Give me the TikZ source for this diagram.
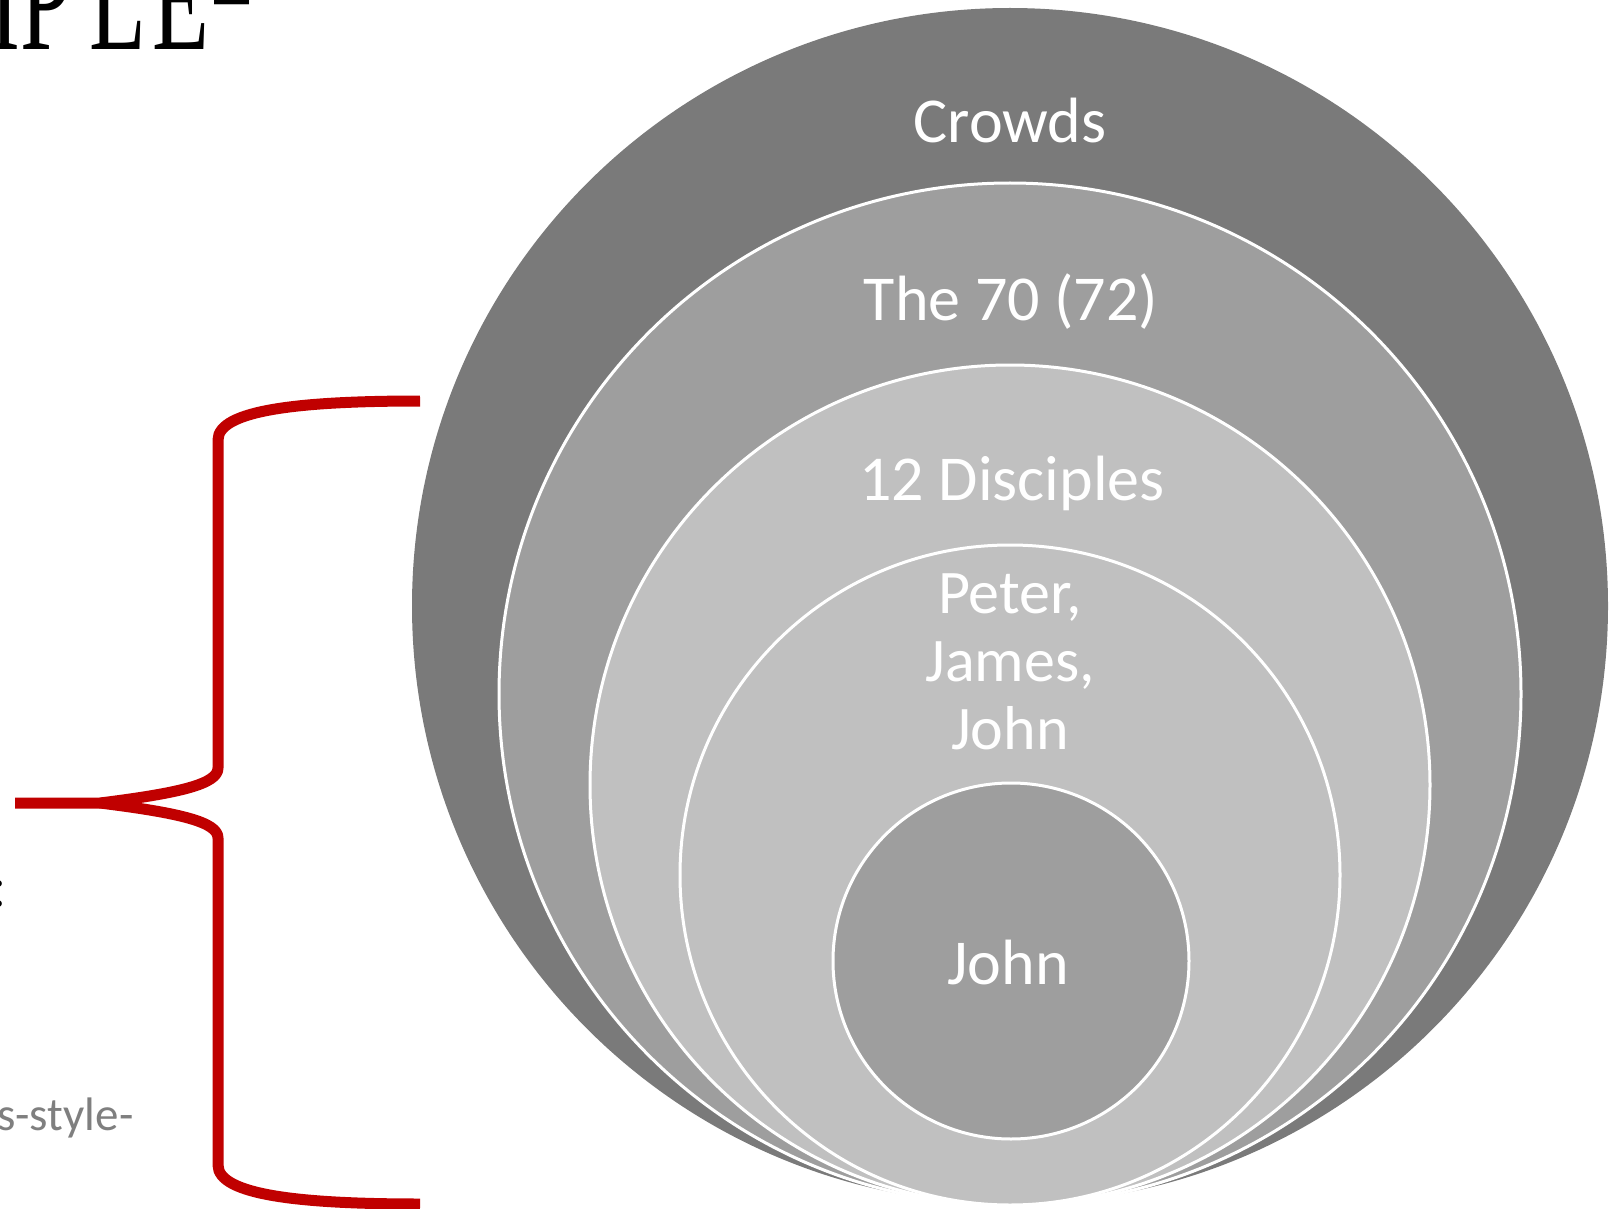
\documentclass[tikz,border=0pt]{standalone}
\usepackage{fontspec}
\setmainfont{Carlito}
\newfontfamily\ttlfont{Liberation Serif}
\usepackage{graphicx}
\definecolor{ringA}{HTML}{7A7A7A}
\definecolor{ringB}{HTML}{9E9E9E}
\definecolor{ringC}{HTML}{C0C0C0}
\definecolor{braceRed}{HTML}{C00000}
\definecolor{noteGray}{HTML}{7F7F7F}
\begin{document}
\begin{tikzpicture}[x=1pt,y=-1pt,
  ring/.style={circle, draw=white, line width=3pt, inner sep=0pt, outer sep=0pt},
  lbl/.style={text=white, inner sep=0pt, anchor=base, font=\fontsize{64}{64}\selectfont},
  sidetext/.style={anchor=base west, inner sep=0pt},
  bracepath/.style={draw=braceRed, line width=11pt, line cap=butt, line join=round}]
\useasboundingbox (0,0) rectangle (1623,1209);
\begin{scope}
\clip (0,0) rectangle (1623,1209);
% rings
\node[ring, fill=ringA, draw=none, minimum size=1196pt] (cCrowds) at (1010,606) {};
\node[ring, fill=ringB, minimum size=1022pt] (c70) at (1010,694) {};
\node[ring, fill=ringC, minimum size=840pt] (c12) at (1010,785) {};
\node[ring, fill=ringC, minimum size=660pt] (cPJJ) at (1010,875) {};
\node[ring, fill=ringB, minimum size=356pt] (cJohn) at (1011,961) {};
% labels
\node[lbl] (tCrowds) at (1010,143) {Crowds};
\node[lbl] (t70) at (1011,320) {The 70 (72)};
\node[lbl] (t12) at (1012,500) {12 Disciples};
\node[lbl, align=center, font=\fontsize{62}{68}\selectfont] (tPJJ) at (1010,749) {Peter,\\James,\\John};
\node[lbl] (tJohn) at (1008,984) {John};
% clipped side texts
\node[sidetext, font=\ttlfont\fontsize{150}{150}\selectfont] (title) at (-11,50)
  {\scalebox{0.62}[1]{IP\kern29pt L\kern10pt E\raisebox{15pt}{\scalebox{1.45}[1]{-}}}};
\node[sidetext, font=\ttlfont\fontsize{55}{55}\selectfont] (colon) at (-8.5,906) {:};
\node[sidetext, text=noteGray, font=\fontsize{47}{47}\selectfont] (note) at (-3,1130) {s-style-};
% brace
\coordinate (bTop) at (420,401);
\coordinate (bTip) at (15,803);
\coordinate (bCusp) at (100,803);
\coordinate (bBot) at (420,1204);
\draw[bracepath] (bTop) .. controls (300,401) and (218,410) .. (218,440) -- (218,768)
  .. controls (218,784) and (180,793) .. (bCusp) -- (bTip);
\draw[bracepath] (bCusp) .. controls (180,813) and (218,822) .. (218,838) -- (218,1165)
  .. controls (218,1195) and (300,1204) .. (bBot);
\end{scope}
\end{tikzpicture}
\end{document}
